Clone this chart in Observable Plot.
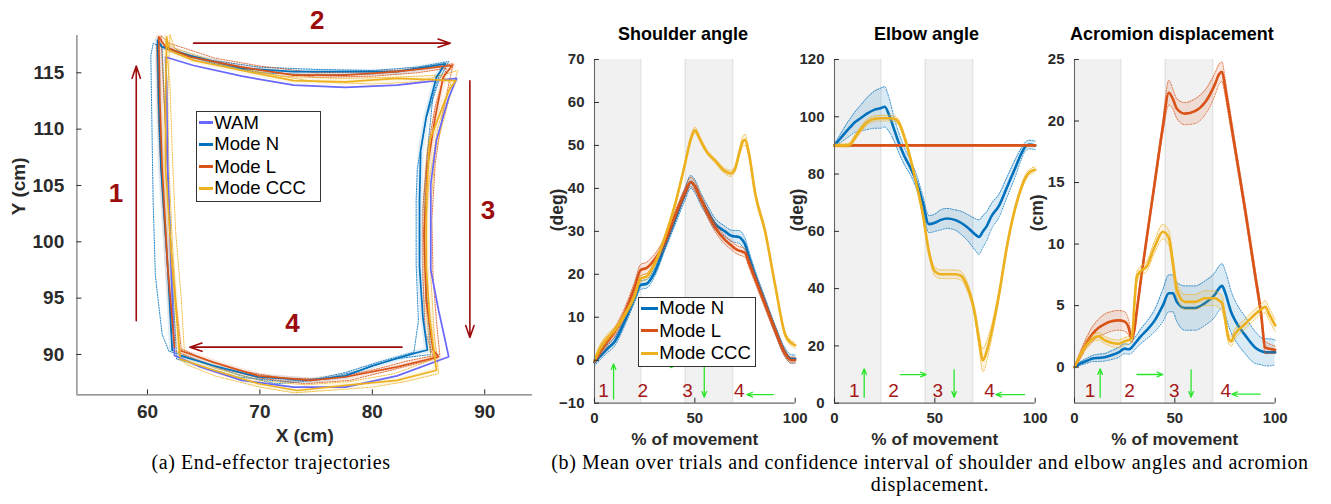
<!DOCTYPE html>
<html><head><meta charset="utf-8">
<script src="https://cdn.jsdelivr.net/npm/d3@7"></script>
<script src="https://cdn.jsdelivr.net/npm/@observablehq/plot@0.6"></script>
<style>
html,body{margin:0;padding:0;background:#fff;overflow:hidden;}
#root{position:relative;width:1331px;height:504px;}
.panel{position:absolute;top:0;}
.legend{position:absolute;background:#fff;border:1px solid #333;box-sizing:border-box;font-family:"Liberation Sans",Arial,Helvetica,sans-serif;color:#000;}
.legend .ln{position:absolute;height:3px;}
.legend .tx{position:absolute;white-space:nowrap;line-height:20px;}
.cap{position:absolute;font-family:"Liberation Serif","Times New Roman",serif;font-size:20px;letter-spacing:0.6px;line-height:21.7px;text-align:center;color:#000;white-space:nowrap;}
</style></head><body><div id="root"></div>
<script>
// ---------------- DATA ----------------
const modeNames = ["Mode N", "Mode L", "Mode CCC"];
const trajNames = ["WAM", "Mode N", "Mode L", "Mode CCC"];
const colN = "#0072BD", colL = "#D95319", colC = "#EDB120", colW = "#6868ff";

// (a) end-effector trajectories: [x, y] in cm
const trajWAM = [[62.4,90.0],[62.1,97.75],[61.8,106.6],[61.7,114.0],[61.6,116.4],[64.1,115.65],[68.4,114.7],[73.0,113.9],[77.6,113.7],[82.2,113.9],[87.5,114.5],[86.8,112.8],[85.7,109.0],[85.2,105.1],[85.2,100.7],[85.2,97.5],[85.9,93.9],[86.8,89.8],[82.2,88.1],[77.6,87.1],[73.0,87.1],[68.4,87.7],[64.7,88.9],[62.4,89.9]];
const trajN = [[62.2,90.35],[61.8,97.75],[61.2,106.6],[61.0,112.5],[60.9,117.9],[61.3,117.3],[63.8,116.5],[68.4,115.4],[73.0,115.1],[77.6,115.1],[82.2,115.1],[86.5,115.8],[85.7,114.6],[84.8,111.1],[84.3,108.1],[84.2,103.7],[84.2,97.8],[84.5,93.3],[84.9,90.4],[83.7,90.1],[80.0,89.0],[77.6,88.1],[74.5,87.7],[69.9,88.0],[65.9,89.0],[62.9,89.9]];
const trajL = [[62.4,90.65],[61.8,97.75],[61.3,106.6],[61.1,112.5],[61.0,118.2],[61.6,117.3],[63.8,116.4],[68.4,115.5],[73.0,114.8],[77.6,114.8],[82.2,115.1],[87.1,115.65],[86.3,114.6],[85.6,111.1],[84.9,106.6],[84.6,100.7],[84.8,94.8],[85.4,90.4],[85.9,89.8],[82.2,88.9],[77.6,88.0],[74.5,87.7],[69.9,88.1],[65.9,89.3],[62.9,90.35]];
const trajC = [[62.9,89.8],[62.2,97.75],[61.6,106.6],[61.6,112.5],[61.7,118.2],[61.9,117.0],[64.1,116.1],[68.4,115.2],[73.0,114.3],[77.6,114.2],[82.2,114.5],[87.4,114.3],[86.8,113.4],[85.1,109.0],[84.8,103.7],[84.8,97.8],[85.1,93.3],[85.7,88.6],[82.2,87.7],[77.6,87.25],[73.3,86.8],[69.9,87.4],[65.9,88.6],[62.9,89.6]];
const trialN1 = [[61.9,90.3],[61.3,91.8],[60.7,97],[60.5,103.7],[60.4,110],[60.3,116.5],[60.5,117.6],[62,117.1],[65,116.2],[70,115.5],[75,115.3],[80,115.2],[84,115.5],[86.8,116],[86,114.5],[84.8,111],[84,106.5],[83.9,103.7],[83.9,98],[84.1,93],[83.7,90.2],[80.5,89.3],[77.6,88.4],[74,87.6],[71.4,87.4],[68,88.2],[65.3,89.2],[61.9,90.3]];
const trialN2 = [[62.6,89.6],[62.3,95],[62,102],[61.6,110],[61.3,117.3],[62.5,116.8],[66,115.8],[70,115],[75,114.8],[80,114.9],[84,115.3],[86.2,115.6],[85.4,113],[85,109],[84.6,104],[84.7,98],[85,93],[85.2,90],[82,89.6],[79,88.6],[76,87.9],[72,87.6],[68,88],[65,88.9],[62.6,89.6]];
const trialL1 = [[63,90.5],[62.5,95],[62,101],[61.7,108],[61.4,114],[61.2,118.3],[62,117.6],[66,116.3],[70,115.6],[75,115],[80,115.1],[84,115.3],[87.2,115.8],[86.8,114],[86.2,111],[85.6,107],[85.3,102],[85.4,97],[85.7,93],[86,90],[83,89.4],[80,88.6],[76,87.8],[72,87.9],[68,88.6],[65,89.6],[63,90.5]];
const trialL2 = [[62.2,90.4],[61.9,96],[61.4,103],[61,110],[60.8,117.5],[62,117],[66,116],[70,115.2],[75,114.6],[80,114.7],[84,115],[86.6,115.4],[85.6,112],[84.9,108],[84.5,103],[84.5,97],[84.7,92],[85.5,89.6],[82,88.7],[78,87.7],[74,87.4],[70,87.9],[66,88.9],[62.2,90.4]];
const trialC1 = [[62.8,89.7],[62.6,94],[62.2,100],[61.9,107],[61.8,113],[62,118.4],[62.4,117.2],[66,116],[70,115],[75,114.2],[80,114],[84,114.2],[87.6,115.2],[86.8,112.5],[85.6,108],[85.2,103],[85.2,97],[85.5,92],[85.9,88.3],[83,87.6],[80,87.1],[76,86.8],[73,86.6],[70,87.1],[66,88.1],[63.5,89.1],[62.8,89.7]];
const trialC2 = [[63.3,89.9],[63,95],[62.5,101],[62.2,108],[62,114],[61.6,117.8],[63,116.8],[67,115.6],[72,114.7],[77,114.5],[82,114.6],[86,114.8],[87,114.1],[85.8,110],[85,105],[84.6,99],[84.8,94],[85.2,89.5],[82,88.3],[78,87.6],[74,87.3],[70,87.7],[66,88.8],[63.3,89.9]];
const trajXTicks = [60, 70, 80, 90];
const trajYTicks = [90, 95, 100, 105, 110, 115];
const trajArrows = [
  {x1:59.0, y1:93.0, x2:59.0, y2:115.6},
  {x1:64.1, y1:117.63, x2:86.93, y2:117.63},
  {x1:88.68, y1:114.3, x2:88.68, y2:91.5},
  {x1:82.64, y1:90.65, x2:63.77, y2:90.65}
];
const trajLabels = [
  {t:"1", x:57.2, y:104.3},
  {t:"2", x:75.1, y:119.6},
  {t:"3", x:90.3, y:102.8},
  {t:"4", x:72.9, y:92.7}
];

// (b) common: movement phases (% of movement)
const phases = [{a:0, b:23.1}, {a:45.2, b:68.9}];
const phaseEdges = [23.1, 45.2, 68.9];
const pctTicks = [0, 50, 100];

// Shoulder angle (deg)
const shX   = [0,3,6,10,15,20,23,26,30,35,40,45,48,50,53,56,60,65,68,70,72,74,75,77,80,85,90,95,98,100];
const shN   = [-0.5,1,2.5,4.3,9,14.5,17.5,17.8,20.5,26.5,32.5,38.5,41.5,40.5,37.5,35,31.8,30,29,28.8,28.7,27.8,27,24,19.8,13.5,7.2,1.8,0.3,0.3];
const shNci = [0.8,0.8,0.9,1,1,1,1,1,1,1,1.2,1.4,1.5,1.5,1.4,1.3,1.3,1.2,1.3,1.4,1.5,1.5,1.4,1.3,1.2,1,1,1,1,0.9];
const shL   = [-0.3,2,4,6.5,11,17,21,21.5,23.5,27.5,33.5,39,41.5,40.5,37.5,34.5,31,28,26.8,26,25.5,25.2,25,22.6,19,13,7,1.5,0,0];
const shLci = [0.5,0.8,1,1,1.1,1.2,1.3,1.3,1.2,1.1,1,1,1.1,1.1,1,1,1,1,1,1,1,1,1,1,1,1,0.9,0.8,0.7,0.7];
const shC   = [0,3,5,7,10.5,15,19,19.5,22.5,28.5,36,45.5,51.5,53.5,51,48.5,46.5,44,43.5,44.5,48,51,51.3,48,39,30,17.5,6,4,3.5];
const shCci = [0.4,0.8,0.8,0.7,0.6,0.6,0.7,0.7,0.6,0.5,0.5,0.5,0.6,0.7,0.6,0.5,0.5,0.6,0.7,0.7,0.9,1.2,1.3,1,0.8,0.7,0.6,0.6,0.6,0.7];
const shYTicks = [-10,0,10,20,30,40,50,60,70];
const shLabels = [{t:"1",x:4.5,y:-7.1},{t:"2",x:24.1,y:-7.1},{t:"3",x:46.3,y:-7.1},{t:"4",x:72.1,y:-7.1}];
const shArrows = [{x1:9.5,y1:-9,x2:9.5,y2:-0.85},{x1:27.8,y1:-1.2,x2:40.7,y2:-1.2},{x1:54.7,y1:-0.1,x2:54.7,y2:-8.6},{x1:89.2,y1:-8,x2:75.9,y2:-8}];

// Elbow angle (deg)
const elX   = [0,3,6,8,10,13,16,20,23,25,27,30,32,35,38,41,44,47,50,53,56,60,63,66,70,72,74,76,78,82,86,90,93,95,97,100];
const elN   = [90,92.5,95,96.5,98,99.5,101,102.5,103,103.5,101,95,91,86,82,77,70,62.5,63,64,64.5,64,63,61.5,59,58,60,62,65,69,75.5,82,87,89.5,90.3,90];
const elNci = [0.5,1.5,2.5,3,3.5,4.5,5.5,6.5,7,7,6,4,3.5,3,2.5,2.5,2.5,3,3,3.5,3.5,3.5,4,4.5,5.5,6,5.5,5,4.5,4,3.5,3,2,1.5,1.5,1.5];
const elL   = [90,90,90,90,90,90,90,90,90,90,90,90,90,90,90,90,90,90,90,90,90,90,90,90,90,90,90,90,90,90,90,90,90,90,90,90];
const elLci = [0.3,0.3,0.3,0.3,0.3,0.3,0.3,0.3,0.3,0.3,0.3,0.3,0.3,0.3,0.3,0.3,0.3,0.3,0.3,0.3,0.3,0.3,0.3,0.3,0.3,0.3,0.3,0.3,0.3,0.3,0.3,0.3,0.3,0.3,0.3,0.3];
const elC   = [90,90,90,90.5,92.5,95.5,98,99.3,99.5,99.5,99.5,99.3,98,92.5,85,76,66,53,46,45,45,45,44.5,41,31,22,15,18.5,24,38,55,68,75,78.5,80.5,81.5];
const elCci = [0.5,0.5,0.6,0.8,1,1,1,1,1,1,1,1,1,1,1,1,1,1.2,1.5,1.5,1.5,1.5,1.5,1.5,1.8,2.5,4,3.5,2.5,1.5,1.2,1,1,1,1,1];
const elYTicks = [0,20,40,60,80,100,120];
const elLabels = [{t:"1",x:9.8,y:4.4},{t:"2",x:29.4,y:4.4},{t:"3",x:51.5,y:4.4},{t:"4",x:77.2,y:4.4}];
const elArrows = [{x1:14.8,y1:2.1,x2:14.8,y2:12.0},{x1:32.7,y1:10,x2:45.7,y2:10},{x1:59.6,y1:11.6,x2:59.6,y2:2.1},{x1:94.7,y1:3,x2:80.4,y2:3}];

// Acromion displacement (cm)
const acX   = [0,3,6,9,12,15,18,22,25,27,28.5,30,31,33,36,40,44,47,49,51,55,60,65,70,72,73.5,75,76.5,78,80,85,90,93,95,97,100];
const acN   = [0,0.3,0.5,0.7,0.75,0.8,0.95,1.2,1.5,1.45,1.6,1.9,2.1,2.5,3,3.8,5,6,6,5.3,4.8,4.8,5.2,5.9,6.4,6.6,6.1,5.3,4.5,3.8,2.6,1.6,1.3,1.2,1.2,1.2];
const acNci = [0,0.15,0.2,0.25,0.3,0.3,0.35,0.4,0.4,0.4,0.45,0.5,0.5,0.6,0.7,0.9,1.3,1.5,1.5,1.6,1.8,1.8,1.8,1.8,1.8,1.8,1.8,1.8,1.7,1.6,1.5,1.3,1.1,1.1,1.1,1];
const acL   = [0,1,2,2.7,3.2,3.5,3.7,3.8,3.7,3.2,2.3,3.2,4.5,7,10.5,15,19.5,22.3,21.8,21,20.6,20.8,21.5,23,23.8,24,22.8,21.3,19.8,17.8,12.8,7.5,4.3,1.6,1.5,1.4];
const acLci = [0,0.3,0.4,0.6,0.7,0.8,0.8,0.8,0.8,0.6,0.3,0.3,0.3,0.3,0.3,0.4,0.5,1,0.8,0.8,0.9,1,1,0.9,0.8,0.8,0.7,0.6,0.6,0.5,0.5,0.5,0.5,0.5,0.4,0.3];
const acC   = [0,1,1.8,2.3,2.5,2.2,2,1.9,2.1,2.2,2.3,5.5,7.3,7.8,8.2,9.8,11,10.5,8.5,6.3,5.3,5.3,5.6,5.6,5.4,5.2,4,2.5,2.1,2.7,3.5,4.3,4.7,4.9,4.3,3.4];
const acCci = [0,0.2,0.3,0.3,0.3,0.3,0.3,0.3,0.3,0.3,0.3,0.4,0.4,0.4,0.4,0.5,0.6,0.6,0.6,0.6,0.6,0.6,0.6,0.6,0.6,0.6,0.5,0.4,0.4,0.4,0.4,0.4,0.4,0.5,0.5,0.5];
const acYTicks = [0,5,10,15,20,25];
const acLabels = [{t:"1",x:7.8,y:-1.9},{t:"2",x:27.4,y:-1.9},{t:"3",x:49.7,y:-1.9},{t:"4",x:75.4,y:-1.9}];
const acArrows = [{x1:12.8,y1:-2.44,x2:12.8,y2:-0.14},{x1:31.1,y1:-0.6,x2:44.0,y2:-0.6},{x1:58.1,y1:-0.22,x2:58.1,y2:-2.44},{x1:92.5,y1:-2.2,x2:78.4,y2:-2.2}];

// ---------------- DRAWING ----------------
const root = document.getElementById("root");
const FONT = "'Liberation Sans', Arial, Helvetica, sans-serif";
const AX = "#2b2b2b";

function place(svg, left) {
  const d = document.createElement("div");
  d.className = "panel";
  d.style.left = left + "px";
  d.appendChild(svg);
  root.appendChild(d);
}

// ---- (a) trajectories ----
(function () {
  const xDom = [53.72, 94.25], yDom = [86.42, 118.31];
  const pt = {x: d => d[0], y: d => d[1]};
  const trials = [[trialN1, colN], [trialN2, colN], [trialL1, colL], [trialL2, colL], [trialC1, colC], [trialC2, colC]];
  const means = [[trajWAM, colW], [trajN, colN], [trajL, colL], [trajC, colC]];
  const marks = [];
  for (const [t, c] of trials) marks.push(Plot.line(t, {...pt, stroke: c, strokeWidth: 1, strokeDasharray: "1.2 1.4", strokeOpacity: 0.85}));
  for (const [t, c] of means.slice(1)) marks.push(Plot.line(t, {...pt, stroke: c, strokeWidth: 6, strokeOpacity: 0.12, strokeLinejoin: "round"}));
  for (const [t, c] of means) marks.push(Plot.line(t, {...pt, stroke: c, strokeWidth: 1.7, strokeLinejoin: "round"}));
  marks.push(
    Plot.ruleX([xDom[0]], {stroke: "#777", strokeWidth: 1.2}),
    Plot.ruleY([yDom[0]], {stroke: "#777", strokeWidth: 1.2}),
    Plot.axisX({ticks: trajXTicks, tickSize: -5, tickPadding: 14.7, fontSize: 19, fontWeight: "bold", color: AX, label: null}),
    Plot.axisY({ticks: trajYTicks, tickSize: -5, tickPadding: 17.7, fontSize: 19, fontWeight: "bold", color: AX, label: null}),
    Plot.text(["X (cm)"], {text: d => d, frameAnchor: "bottom", lineAnchor: "middle", dy: 40.7, fontSize: 19, fontWeight: "bold", fill: AX}),
    Plot.text(["Y (cm)"], {text: d => d, frameAnchor: "left", lineAnchor: "middle", dx: -58.4, rotate: -90, fontSize: 19, fontWeight: "bold", fill: AX}),
    Plot.arrow(trajArrows, {x1: "x1", y1: "y1", x2: "x2", y2: "y2", stroke: "#9c0c0c", strokeWidth: 1.6, headLength: 12, headAngle: 38}),
    Plot.text(trajLabels, {x: "x", y: "y", text: "t", fill: "#9c0c0c", fontSize: 26, fontWeight: "bold"})
  );
  const svg = Plot.plot({
    width: 545, height: 460, marginLeft: 76.4, marginRight: 13, marginTop: 35, marginBottom: 65.7,
    x: {domain: xDom}, y: {domain: yDom},
    style: {background: "transparent", overflow: "visible", fontFamily: FONT},
    marks
  });
  place(svg, 0);
})();

// ---- (b) time-series panels ----
function tsPanel(cfg) {
  const {L, R, title, titleDx, ylabel, yDom, yTicks, xs, series, labels, arrows} = cfg;
  const mL = 60, mR = 15;
  const marks = [
    Plot.rect(phases, {x1: "a", x2: "b", y1: yDom[0], y2: yDom[1], fill: "#f1f1f1"}),
    Plot.ruleX(phaseEdges, {stroke: "#dcdcdc", strokeWidth: 1})
  ];
  for (const s of series) {
    const rows = xs.map((x, i) => ({x, m: s.m[i], lo: s.m[i] - s.ci[i], hi: s.m[i] + s.ci[i]}));
    marks.push(
      Plot.areaY(rows, {x: "x", y1: "lo", y2: "hi", fill: s.color, fillOpacity: 0.14, curve: "monotone-x"}),
      Plot.line(rows, {x: "x", y: "lo", stroke: s.color, strokeWidth: 0.8, strokeDasharray: "1.2 1.5", curve: "monotone-x"}),
      Plot.line(rows, {x: "x", y: "hi", stroke: s.color, strokeWidth: 0.8, strokeDasharray: "1.2 1.5", curve: "monotone-x"}),
      Plot.line(rows, {x: "x", y: "m", stroke: s.color, strokeWidth: 2.6, curve: "monotone-x"})
    );
  }
  marks.push(
    Plot.ruleX([0], {stroke: "#666", strokeWidth: 1.1}),
    Plot.ruleY([yDom[0]], {stroke: "#666", strokeWidth: 1.1}),
    Plot.axisX({ticks: pctTicks, tickSize: -5, tickPadding: 13.7, fontSize: 15, fontWeight: "bold", color: AX, label: null}),
    Plot.axisY({ticks: yTicks, tickSize: -5, tickPadding: 15, fontSize: 15, fontWeight: "bold", color: AX, label: null}),
    Plot.text([title], {text: d => d, frameAnchor: "top", lineAnchor: "middle", dy: -25.7, dx: titleDx, fontSize: 18, fontWeight: "bold", fill: "#000"}),
    Plot.text(["% of movement"], {text: d => d, frameAnchor: "bottom", lineAnchor: "middle", dy: 36.3, fontSize: 17.2, fontWeight: "bold", fill: AX}),
    Plot.text([ylabel], {text: d => d, frameAnchor: "left", lineAnchor: "middle", dx: -37, rotate: -90, fontSize: 17.5, fontWeight: "bold", fill: AX}),
    Plot.text(labels, {x: "x", y: "y", text: "t", fill: "#a51616", fontSize: 19}),
    Plot.arrow(arrows, {x1: "x1", y1: "y1", x2: "x2", y2: "y2", stroke: "#2be62b", strokeWidth: 1.3, headLength: 7, headAngle: 45})
  );
  const svg = Plot.plot({
    width: (R - L) + mL + mR, height: 460, marginLeft: mL, marginRight: mR, marginTop: 59, marginBottom: 460 - 402.7,
    x: {domain: [0, 100]}, y: {domain: yDom},
    style: {background: "transparent", overflow: "visible", fontFamily: FONT},
    marks
  });
  place(svg, L - mL);
}

tsPanel({L: 594.3, R: 795, title: "Shoulder angle", titleDx: -11.9, ylabel: "(deg)", yDom: [-10, 70], yTicks: shYTicks, xs: shX,
  series: [{m: shN, ci: shNci, color: colN}, {m: shL, ci: shLci, color: colL}, {m: shC, ci: shCci, color: colC}],
  labels: shLabels, arrows: shArrows});
tsPanel({L: 834.3, R: 1035, title: "Elbow angle", titleDx: -8.4, ylabel: "(deg)", yDom: [0, 120], yTicks: elYTicks, xs: elX,
  series: [{m: elN, ci: elNci, color: colN}, {m: elL, ci: elLci, color: colL}, {m: elC, ci: elCci, color: colC}],
  labels: elLabels, arrows: elArrows});
tsPanel({L: 1074.3, R: 1275, title: "Acromion displacement", titleDx: -3, ylabel: "(cm)", yDom: [-2.93, 25], yTicks: acYTicks, xs: acX,
  series: [{m: acN, ci: acNci, color: colN}, {m: acL, ci: acLci, color: colL}, {m: acC, ci: acCci, color: colC}],
  labels: acLabels, arrows: acArrows});

// ---- legends ----
function legend(box, names, colors, rowsY, lineX, textX, fontSize) {
  const d = document.createElement("div");
  d.className = "legend";
  Object.assign(d.style, {left: box[0] + "px", top: box[1] + "px", width: box[2] + "px", height: box[3] + "px", fontSize: fontSize + "px"});
  names.forEach((n, i) => {
    const ln = document.createElement("div");
    ln.className = "ln";
    Object.assign(ln.style, {left: lineX[0] + "px", width: (lineX[1] - lineX[0]) + "px", top: (rowsY[i] - 2.5) + "px", background: colors[i]});
    const tx = document.createElement("div");
    tx.className = "tx";
    tx.textContent = n;
    Object.assign(tx.style, {left: textX + "px", top: (rowsY[i] - 11) + "px"});
    d.appendChild(ln); d.appendChild(tx);
  });
  root.appendChild(d);
}
legend([196.3, 110.7, 125, 91.6], trajNames, [colW, colN, colL, colC], [12, 33.6, 56, 77.6], [2.2, 15.5], 17, 18.5);
legend([638.3, 296.7, 117.7, 70], modeNames, [colN, colL, colC], [11.5, 34, 56.5], [1.5, 19], 20, 18.5);

// ---- captions ----
function caption(html, cx, top, w) {
  const d = document.createElement("div");
  d.className = "cap";
  d.innerHTML = html;
  Object.assign(d.style, {left: (cx - w / 2) + "px", width: w + "px", top: top + "px"});
  root.appendChild(d);
}
caption("(a) End-effector trajectories", 271, 452, 400);
caption("(b) Mean over trials and confidence interval of shoulder and elbow angles and acromion<br>displacement.", 930, 452, 860);
</script></body></html>
